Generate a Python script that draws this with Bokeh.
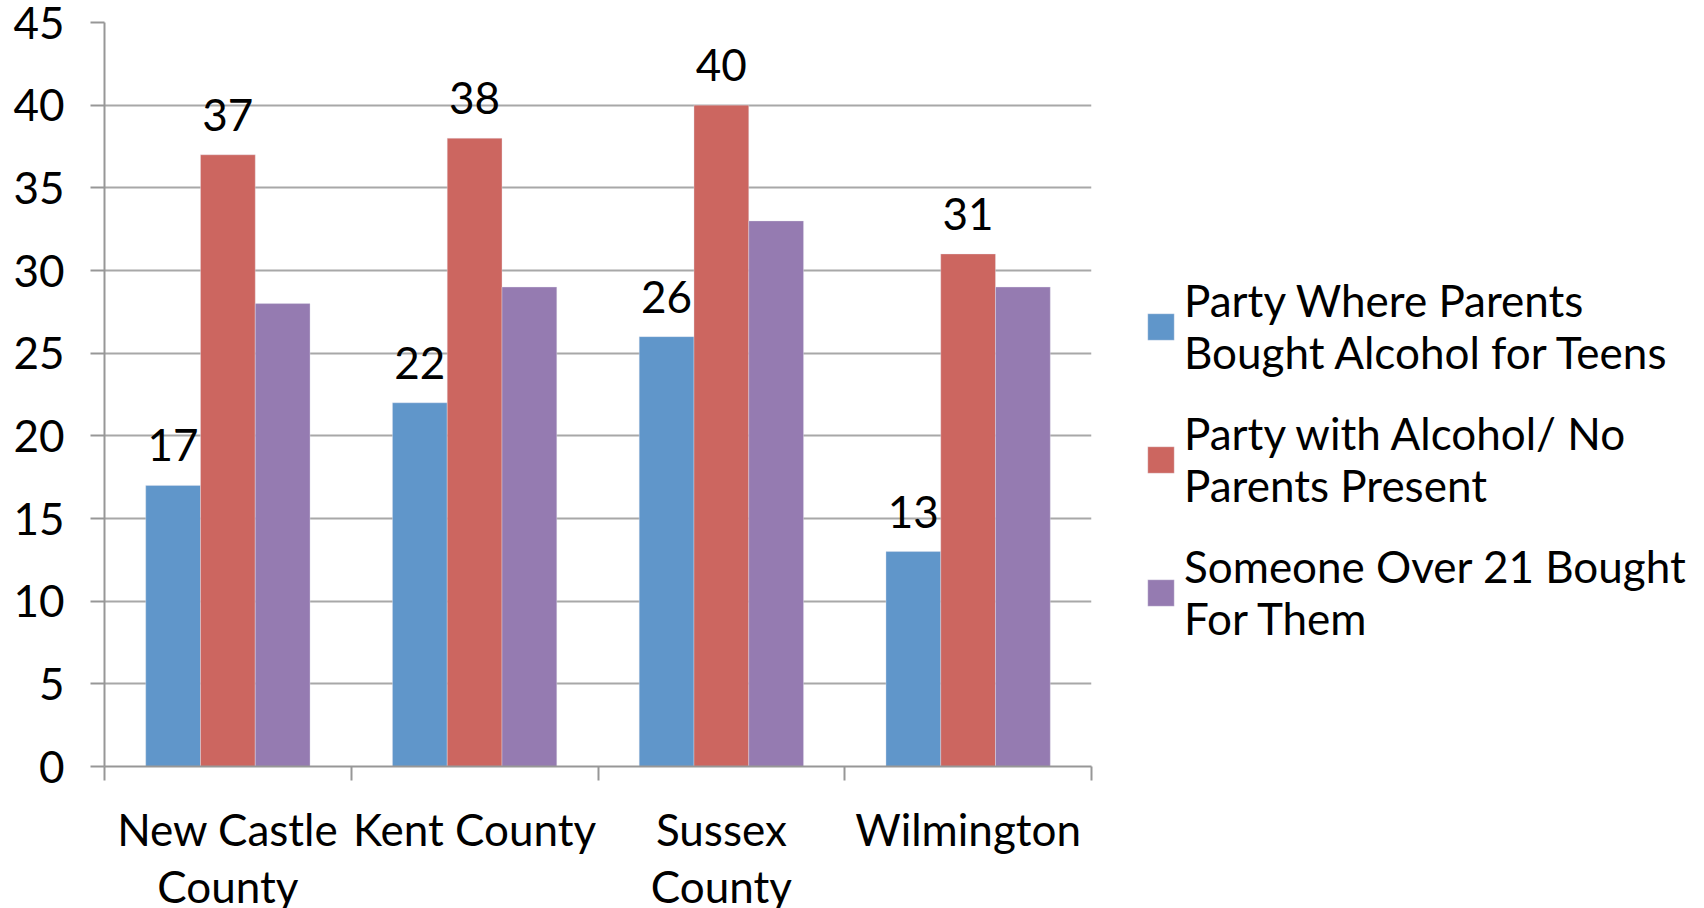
from bokeh.plotting import figure
from bokeh.models import (Range1d, FixedTicker, ColumnDataSource, LabelSet, Legend, LegendItem)
from bokeh.core.properties import value
from bokeh.embed import file_html
from bokeh.resources import INLINE

categories = ["New Castle\nCounty", "Kent County", "Sussex\nCounty", "Wilmington"]
series_names = ["Party Where Parents\nBought Alcohol for Teens",
                "Party with Alcohol/ No\nParents Present",
                "Someone Over 21 Bought\nFor Them"]
parents_bought = [17, 22, 26, 13]
no_parents = [37, 38, 40, 31]
over21 = [28, 29, 33, 29]
y_ticks = [0, 5, 10, 15, 20, 25, 30, 35, 40, 45]

colors = ["#6096CA", "#CC6660", "#957BB1"]
FONT = "Lato"
FS = "44px"

n = len(categories)
w = 0.222
centers = [i + 0.5 for i in range(n)]

p = figure(frame_width=987, frame_height=744, output_backend="svg", toolbar_location=None,
           x_range=Range1d(0, n), y_range=Range1d(0, 45),
           min_border_left=104, min_border_top=22, min_border_bottom=142, min_border_right=600)
p.outline_line_color = None
p.background_fill_color = "white"
p.border_fill_color = "white"

renderers = []
for k, vals in enumerate([parents_bought, no_parents, over21]):
    xs = [c + (k - 1) * w for c in centers]
    src = ColumnDataSource(dict(x=xs, top=vals, lab=[str(v) for v in vals]))
    r = p.vbar(x="x", top="top", bottom=0, width=w, source=src, fill_color=colors[k],
               line_color="#e8e8f0", line_width=0.6, line_alpha=0.6)
    renderers.append(r)
    if k < 2:
        ls = LabelSet(x="x", y="top", text="lab", source=src, text_align="center",
                      text_baseline="alphabetic", y_offset=24, text_font=value(FONT),
                      text_font_size=value(FS), text_color="black")
        p.add_layout(ls)

# axes
p.xaxis.ticker = FixedTicker(ticks=centers, minor_ticks=list(range(n + 1)))
p.xaxis.major_label_overrides = {c: lab for c, lab in zip(centers, categories)}
p.xaxis.major_tick_line_color = None
p.xaxis.major_tick_out = 0
p.xaxis.major_tick_in = 0
p.xaxis.minor_tick_out = 14
p.xaxis.minor_tick_in = 0
p.xaxis.minor_tick_line_color = "#979797"
p.xaxis.minor_tick_line_width = 2
p.xaxis.axis_line_color = "#979797"
p.xaxis.axis_line_width = 2
p.xaxis.major_label_text_font = FONT
p.xaxis.major_label_text_font_size = FS
p.xaxis.major_label_text_color = "black"
p.xaxis.major_label_text_line_height = 1.1
p.xaxis.major_label_standoff = 22

p.yaxis.ticker = FixedTicker(ticks=y_ticks)
p.yaxis.minor_tick_line_color = None
p.yaxis.major_tick_out = 14
p.yaxis.major_tick_in = 0
p.yaxis.major_tick_line_color = "#979797"
p.yaxis.major_tick_line_width = 2
p.yaxis.axis_line_color = "#979797"
p.yaxis.axis_line_width = 2
p.yaxis.major_label_text_font = FONT
p.yaxis.major_label_text_font_size = FS
p.yaxis.major_label_text_color = "black"
p.yaxis.major_label_standoff = 26

p.xgrid.grid_line_color = None
p.ygrid.ticker = FixedTicker(ticks=y_ticks)
p.ygrid.grid_line_color = "#a8a8a8"
p.ygrid.grid_line_width = 2

legend = Legend(items=[LegendItem(label=series_names[k], renderers=[renderers[k]]) for k in range(3)],
                location=(53, 122), orientation="vertical")
legend.label_text_font = FONT
legend.label_text_font_size = FS
legend.label_text_line_height = 1.32
legend.label_text_color = "black"
legend.glyph_width = 33
legend.glyph_height = 33
legend.label_standoff = 7
legend.spacing = 29
legend.padding = 0
legend.margin = 0
legend.border_line_color = None
legend.background_fill_alpha = 0
legend.label_height = 26
p.add_layout(legend, "right")

open("out.html", "w").write(file_html(p, INLINE))
